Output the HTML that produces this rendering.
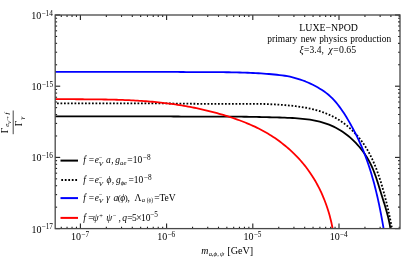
<!DOCTYPE html>
<html><head><meta charset="utf-8"><style>
html,body{margin:0;padding:0;background:#fff;}
body{width:415px;height:258px;overflow:hidden;font-family:"Liberation Serif",serif;}
svg{display:block;font-family:"Liberation Serif",serif;will-change:transform;opacity:0.999;}
svg text{fill:#000;}
</style></head><body>
<svg width="415" height="258" viewBox="0 0 415 258">
<rect width="415" height="258" fill="#fff"/>
<defs><clipPath id="c"><rect x="55.2" y="15.0" width="344.8" height="213.6"/></clipPath></defs>
<g clip-path="url(#c)" fill="none" stroke-width="1.8" stroke-linejoin="round">
<polyline points="50.00,116.40 57.54,116.40 60.09,116.40 62.63,116.40 65.17,116.40 67.70,116.40 70.24,116.40 72.78,116.40 75.31,116.40 77.84,116.40 80.37,116.40 82.90,116.40 85.43,116.40 87.96,116.40 90.49,116.40 93.01,116.40 95.54,116.40 98.06,116.40 100.58,116.40 103.10,116.40 105.62,116.40 108.14,116.40 110.66,116.40 113.18,116.40 115.69,116.40 118.21,116.40 120.73,116.40 123.24,116.40 125.76,116.40 128.27,116.40 130.78,116.40 133.30,116.40 135.81,116.40 138.32,116.40 140.83,116.40 143.34,116.40 145.86,116.40 148.37,116.40 150.88,116.40 153.39,116.40 155.90,116.41 158.41,116.41 160.92,116.42 163.43,116.43 165.94,116.44 168.45,116.45 170.96,116.47 173.47,116.48 175.98,116.50 178.50,116.51 181.01,116.53 183.52,116.54 186.03,116.56 188.54,116.57 191.06,116.59 193.57,116.60 196.08,116.62 198.60,116.63 201.12,116.64 203.63,116.65 206.15,116.66 208.67,116.67 211.18,116.67 213.70,116.67 216.22,116.67 218.74,116.67 221.26,116.67 223.79,116.67 226.31,116.67 228.84,116.67 231.36,116.67 233.89,116.67 236.42,116.67 238.95,116.67 241.48,116.70 244.01,116.73 246.54,116.77 249.08,116.81 251.61,116.85 254.15,116.90 256.69,116.95 259.23,117.00 261.77,117.05 264.31,117.11 266.86,117.17 269.40,117.23 271.95,117.30 274.50,117.37 277.06,117.44 279.61,117.51 282.16,117.59 284.72,117.68 287.28,117.78 289.83,117.89 292.38,118.01 294.92,118.16 297.46,118.34 299.99,118.54 302.50,118.78 305.01,119.06 307.50,119.37 309.98,119.73 312.44,120.14 314.89,120.60 317.31,121.12 319.72,121.70 322.10,122.34 324.46,123.04 326.79,123.82 329.09,124.68 331.37,125.61 333.62,126.63 335.83,127.73 338.01,128.92 340.16,130.19 342.26,131.54 344.33,132.96 346.36,134.45 348.34,136.02 350.28,137.65 352.17,139.35 354.01,141.11 355.80,142.92 357.54,144.79 359.22,146.72 360.84,148.69 362.40,150.71 363.90,152.78 365.34,154.88 366.72,157.02 368.02,159.20 369.26,161.41 370.43,163.65 371.52,165.91 372.54,168.20 373.51,170.51 374.42,172.84 375.28,175.19 376.11,177.56 376.90,179.95 377.68,182.35 378.43,184.76 379.18,187.19 379.93,189.62 380.68,192.06 381.45,194.51 382.22,196.97 382.99,199.42 383.76,201.88 384.52,204.34 385.26,206.80 385.99,209.26 386.69,211.71 387.35,214.15 387.98,216.59 388.57,219.02 389.11,221.43 389.60,223.84 390.03,226.23 390.40,228.60" stroke="#000"/>
<polyline points="50.00,103.40 57.60,103.40 60.20,103.40 62.80,103.40 65.40,103.40 68.00,103.40 70.59,103.40 73.19,103.40 75.78,103.40 78.38,103.40 80.97,103.40 83.56,103.40 86.15,103.40 88.74,103.40 91.33,103.40 93.91,103.40 96.50,103.40 99.09,103.40 101.67,103.40 104.25,103.40 106.84,103.40 109.42,103.40 112.00,103.40 114.59,103.40 117.17,103.40 119.75,103.40 122.33,103.40 124.91,103.40 127.49,103.40 130.07,103.40 132.64,103.40 135.22,103.40 137.80,103.40 140.38,103.40 142.96,103.40 145.53,103.40 148.11,103.40 150.69,103.40 153.26,103.40 155.84,103.41 158.42,103.41 160.99,103.43 163.57,103.44 166.14,103.46 168.72,103.48 171.30,103.50 173.87,103.53 176.45,103.56 179.03,103.59 181.61,103.62 184.18,103.65 186.76,103.68 189.34,103.71 191.92,103.73 194.50,103.76 197.07,103.78 199.65,103.80 202.23,103.82 204.81,103.84 207.40,103.85 209.98,103.86 212.56,103.87 215.14,103.87 217.73,103.87 220.31,103.87 222.89,103.87 225.48,103.87 228.07,103.87 230.65,103.87 233.24,103.87 235.83,103.87 238.42,103.87 241.01,103.87 243.60,103.87 246.19,103.87 248.79,103.87 251.38,103.87 253.98,103.87 256.57,103.87 259.17,103.87 261.77,103.91 264.37,103.99 266.97,104.09 269.57,104.20 272.18,104.32 274.78,104.46 277.39,104.61 280.00,104.77 282.60,104.95 285.21,105.15 287.82,105.38 290.42,105.62 293.02,105.89 295.61,106.20 298.20,106.53 300.77,106.90 303.33,107.31 305.88,107.76 308.41,108.26 310.93,108.81 313.42,109.40 315.90,110.05 318.36,110.75 320.79,111.52 323.20,112.34 325.58,113.23 327.93,114.19 330.25,115.22 332.54,116.33 334.80,117.51 337.02,118.76 339.21,120.10 341.35,121.51 343.46,122.99 345.52,124.55 347.53,126.17 349.50,127.85 351.42,129.60 353.28,131.40 355.09,133.26 356.84,135.18 358.54,137.15 360.17,139.16 361.74,141.22 363.25,143.33 364.69,145.47 366.08,147.66 367.41,149.88 368.68,152.14 369.90,154.42 371.07,156.73 372.19,159.07 373.26,161.43 374.29,163.82 375.28,166.22 376.23,168.63 377.15,171.06 378.03,173.50 378.88,175.96 379.70,178.42 380.49,180.90 381.25,183.39 381.99,185.88 382.72,188.38 383.42,190.89 384.10,193.40 384.77,195.92 385.42,198.44 386.06,200.96 386.68,203.49 387.28,206.01 387.87,208.54 388.44,211.06 388.99,213.58 389.53,216.10 390.06,218.61 390.57,221.12 391.06,223.62 391.54,226.11 392.00,228.60" stroke="#000" stroke-dasharray="1.75 1.75"/>
<polyline points="50.00,71.80 57.68,71.80 60.36,71.80 63.04,71.80 65.72,71.80 68.40,71.80 71.08,71.80 73.75,71.80 76.43,71.80 79.10,71.80 81.78,71.80 84.45,71.80 87.13,71.80 89.80,71.80 92.48,71.80 95.15,71.80 97.82,71.80 100.49,71.80 103.17,71.80 105.84,71.80 108.51,71.80 111.18,71.80 113.85,71.80 116.52,71.80 119.19,71.80 121.86,71.80 124.54,71.80 127.21,71.80 129.88,71.80 132.55,71.80 135.22,71.80 137.89,71.80 140.56,71.80 143.23,71.80 145.90,71.80 148.57,71.81 151.25,71.81 153.92,71.82 156.59,71.83 159.26,71.84 161.94,71.85 164.61,71.87 167.28,71.89 169.96,71.90 172.63,71.93 175.31,71.95 177.98,71.97 180.66,71.99 183.33,72.02 186.01,72.04 188.69,72.06 191.37,72.08 194.05,72.09 196.73,72.10 199.41,72.11 202.09,72.12 204.77,72.12 207.46,72.13 210.14,72.14 212.82,72.14 215.51,72.16 218.19,72.17 220.87,72.19 223.55,72.21 226.24,72.24 228.92,72.27 231.60,72.32 234.28,72.36 236.96,72.42 239.63,72.49 242.31,72.56 244.98,72.65 247.65,72.75 250.32,72.86 252.99,72.98 255.66,73.11 258.32,73.26 260.98,73.42 263.64,73.60 266.29,73.80 268.94,74.01 271.59,74.23 274.24,74.48 276.88,74.75 279.51,75.04 282.15,75.37 284.78,75.76 287.40,76.21 290.02,76.74 292.64,77.34 295.24,78.02 297.83,78.78 300.39,79.60 302.94,80.50 305.46,81.46 307.95,82.50 310.41,83.60 312.83,84.77 315.22,86.00 317.56,87.29 319.85,88.65 322.09,90.07 324.28,91.55 326.41,93.11 328.48,94.77 330.48,96.55 332.41,98.44 334.26,100.41 336.03,102.44 337.73,104.50 339.35,106.60 340.91,108.73 342.42,110.90 343.87,113.10 345.29,115.33 346.67,117.58 348.03,119.87 349.36,122.17 350.68,124.50 351.98,126.86 353.26,129.23 354.52,131.61 355.75,134.02 356.95,136.44 358.12,138.87 359.25,141.31 360.36,143.76 361.43,146.22 362.47,148.69 363.49,151.16 364.47,153.65 365.43,156.15 366.35,158.65 367.25,161.16 368.13,163.68 368.98,166.21 369.80,168.75 370.60,171.29 371.38,173.84 372.13,176.39 372.86,178.96 373.58,181.53 374.27,184.10 374.94,186.68 375.59,189.27 376.22,191.86 376.84,194.46 377.44,197.06 378.02,199.67 378.59,202.28 379.15,204.90 379.69,207.52 380.21,210.14 380.73,212.77 381.23,215.40 381.72,218.03 382.21,220.67 382.68,223.31 383.14,225.95 383.60,228.60" stroke="#0000ff"/>
<polyline points="50.00,99.20 57.13,99.20 59.27,99.20 61.40,99.20 63.53,99.20 65.66,99.20 67.79,99.21 69.92,99.21 72.04,99.22 74.17,99.22 76.29,99.23 78.41,99.24 80.54,99.25 82.66,99.26 84.78,99.28 86.90,99.29 89.01,99.31 91.13,99.33 93.25,99.35 95.36,99.38 97.48,99.40 99.59,99.43 101.71,99.45 103.82,99.48 105.93,99.52 108.04,99.56 110.16,99.60 112.27,99.65 114.38,99.70 116.48,99.76 118.59,99.82 120.70,99.89 122.81,99.96 124.92,100.04 127.02,100.13 129.13,100.22 131.24,100.32 133.34,100.42 135.45,100.54 137.55,100.66 139.66,100.79 141.76,100.93 143.87,101.07 145.97,101.23 148.08,101.39 150.18,101.56 152.28,101.75 154.39,101.94 156.49,102.14 158.60,102.35 160.70,102.57 162.80,102.81 164.91,103.05 167.01,103.31 169.12,103.58 171.22,103.85 173.33,104.15 175.43,104.45 177.54,104.77 179.64,105.09 181.75,105.43 183.85,105.79 185.95,106.15 188.05,106.53 190.15,106.93 192.25,107.33 194.35,107.75 196.44,108.18 198.53,108.62 200.62,109.08 202.71,109.55 204.79,110.03 206.86,110.52 208.94,111.03 211.01,111.55 213.07,112.09 215.13,112.64 217.18,113.20 219.23,113.77 221.28,114.36 223.31,114.96 225.34,115.58 227.37,116.20 229.38,116.84 231.39,117.50 233.40,118.17 235.39,118.85 237.38,119.55 239.35,120.27 241.32,121.00 243.28,121.75 245.24,122.52 247.18,123.31 249.11,124.13 251.03,124.96 252.94,125.81 254.84,126.69 256.74,127.59 258.61,128.52 260.48,129.47 262.34,130.45 264.18,131.46 266.01,132.49 267.83,133.56 269.64,134.65 271.43,135.78 273.21,136.93 274.97,138.11 276.72,139.31 278.45,140.55 280.16,141.81 281.86,143.10 283.53,144.42 285.19,145.76 286.83,147.13 288.44,148.52 290.04,149.94 291.61,151.38 293.16,152.84 294.68,154.33 296.18,155.85 297.66,157.38 299.11,158.94 300.53,160.52 301.92,162.12 303.29,163.74 304.63,165.38 305.93,167.05 307.21,168.73 308.46,170.43 309.68,172.15 310.86,173.89 312.02,175.65 313.15,177.43 314.25,179.22 315.32,181.03 316.36,182.86 317.37,184.71 318.35,186.57 319.31,188.44 320.24,190.33 321.13,192.24 322.00,194.16 322.85,196.09 323.66,198.04 324.45,200.00 325.21,201.98 325.95,203.96 326.66,205.96 327.34,207.97 327.99,209.99 328.62,212.02 329.21,214.06 329.78,216.11 330.32,218.17 330.84,220.24 331.32,222.32 331.78,224.41 332.20,226.50 332.60,228.60" stroke="#ff0000"/>
</g>
<g stroke="#202020" stroke-width="1.1">
<line x1="61.28" y1="228.6" x2="61.28" y2="226.70"/>
<line x1="61.28" y1="15.0" x2="61.28" y2="16.90"/>
<line x1="67.05" y1="228.6" x2="67.05" y2="226.70"/>
<line x1="67.05" y1="15.0" x2="67.05" y2="16.90"/>
<line x1="72.05" y1="228.6" x2="72.05" y2="226.70"/>
<line x1="72.05" y1="15.0" x2="72.05" y2="16.90"/>
<line x1="76.46" y1="228.6" x2="76.46" y2="226.70"/>
<line x1="76.46" y1="15.0" x2="76.46" y2="16.90"/>
<line x1="80.40" y1="228.6" x2="80.40" y2="223.60"/>
<line x1="80.40" y1="15.0" x2="80.40" y2="20.00"/>
<line x1="106.35" y1="228.6" x2="106.35" y2="226.70"/>
<line x1="106.35" y1="15.0" x2="106.35" y2="16.90"/>
<line x1="121.53" y1="228.6" x2="121.53" y2="226.70"/>
<line x1="121.53" y1="15.0" x2="121.53" y2="16.90"/>
<line x1="132.30" y1="228.6" x2="132.30" y2="226.70"/>
<line x1="132.30" y1="15.0" x2="132.30" y2="16.90"/>
<line x1="140.65" y1="228.6" x2="140.65" y2="226.70"/>
<line x1="140.65" y1="15.0" x2="140.65" y2="16.90"/>
<line x1="147.48" y1="228.6" x2="147.48" y2="226.70"/>
<line x1="147.48" y1="15.0" x2="147.48" y2="16.90"/>
<line x1="153.25" y1="228.6" x2="153.25" y2="226.70"/>
<line x1="153.25" y1="15.0" x2="153.25" y2="16.90"/>
<line x1="158.25" y1="228.6" x2="158.25" y2="226.70"/>
<line x1="158.25" y1="15.0" x2="158.25" y2="16.90"/>
<line x1="162.66" y1="228.6" x2="162.66" y2="226.70"/>
<line x1="162.66" y1="15.0" x2="162.66" y2="16.90"/>
<line x1="166.60" y1="228.6" x2="166.60" y2="223.60"/>
<line x1="166.60" y1="15.0" x2="166.60" y2="20.00"/>
<line x1="192.55" y1="228.6" x2="192.55" y2="226.70"/>
<line x1="192.55" y1="15.0" x2="192.55" y2="16.90"/>
<line x1="207.73" y1="228.6" x2="207.73" y2="226.70"/>
<line x1="207.73" y1="15.0" x2="207.73" y2="16.90"/>
<line x1="218.50" y1="228.6" x2="218.50" y2="226.70"/>
<line x1="218.50" y1="15.0" x2="218.50" y2="16.90"/>
<line x1="226.85" y1="228.6" x2="226.85" y2="226.70"/>
<line x1="226.85" y1="15.0" x2="226.85" y2="16.90"/>
<line x1="233.68" y1="228.6" x2="233.68" y2="226.70"/>
<line x1="233.68" y1="15.0" x2="233.68" y2="16.90"/>
<line x1="239.45" y1="228.6" x2="239.45" y2="226.70"/>
<line x1="239.45" y1="15.0" x2="239.45" y2="16.90"/>
<line x1="244.45" y1="228.6" x2="244.45" y2="226.70"/>
<line x1="244.45" y1="15.0" x2="244.45" y2="16.90"/>
<line x1="248.86" y1="228.6" x2="248.86" y2="226.70"/>
<line x1="248.86" y1="15.0" x2="248.86" y2="16.90"/>
<line x1="252.80" y1="228.6" x2="252.80" y2="223.60"/>
<line x1="252.80" y1="15.0" x2="252.80" y2="20.00"/>
<line x1="278.75" y1="228.6" x2="278.75" y2="226.70"/>
<line x1="278.75" y1="15.0" x2="278.75" y2="16.90"/>
<line x1="293.93" y1="228.6" x2="293.93" y2="226.70"/>
<line x1="293.93" y1="15.0" x2="293.93" y2="16.90"/>
<line x1="304.70" y1="228.6" x2="304.70" y2="226.70"/>
<line x1="304.70" y1="15.0" x2="304.70" y2="16.90"/>
<line x1="313.05" y1="228.6" x2="313.05" y2="226.70"/>
<line x1="313.05" y1="15.0" x2="313.05" y2="16.90"/>
<line x1="319.88" y1="228.6" x2="319.88" y2="226.70"/>
<line x1="319.88" y1="15.0" x2="319.88" y2="16.90"/>
<line x1="325.65" y1="228.6" x2="325.65" y2="226.70"/>
<line x1="325.65" y1="15.0" x2="325.65" y2="16.90"/>
<line x1="330.65" y1="228.6" x2="330.65" y2="226.70"/>
<line x1="330.65" y1="15.0" x2="330.65" y2="16.90"/>
<line x1="335.06" y1="228.6" x2="335.06" y2="226.70"/>
<line x1="335.06" y1="15.0" x2="335.06" y2="16.90"/>
<line x1="339.00" y1="228.6" x2="339.00" y2="223.60"/>
<line x1="339.00" y1="15.0" x2="339.00" y2="20.00"/>
<line x1="364.95" y1="228.6" x2="364.95" y2="226.70"/>
<line x1="364.95" y1="15.0" x2="364.95" y2="16.90"/>
<line x1="380.13" y1="228.6" x2="380.13" y2="226.70"/>
<line x1="380.13" y1="15.0" x2="380.13" y2="16.90"/>
<line x1="390.90" y1="228.6" x2="390.90" y2="226.70"/>
<line x1="390.90" y1="15.0" x2="390.90" y2="16.90"/>
<line x1="399.25" y1="228.6" x2="399.25" y2="226.70"/>
<line x1="399.25" y1="15.0" x2="399.25" y2="16.90"/>
<line x1="55.2" y1="228.60" x2="60.20" y2="228.60"/>
<line x1="400.0" y1="228.60" x2="395.00" y2="228.60"/>
<line x1="55.2" y1="207.17" x2="57.10" y2="207.17"/>
<line x1="400.0" y1="207.17" x2="398.10" y2="207.17"/>
<line x1="55.2" y1="194.63" x2="57.10" y2="194.63"/>
<line x1="400.0" y1="194.63" x2="398.10" y2="194.63"/>
<line x1="55.2" y1="185.73" x2="57.10" y2="185.73"/>
<line x1="400.0" y1="185.73" x2="398.10" y2="185.73"/>
<line x1="55.2" y1="178.83" x2="57.10" y2="178.83"/>
<line x1="400.0" y1="178.83" x2="398.10" y2="178.83"/>
<line x1="55.2" y1="173.20" x2="57.10" y2="173.20"/>
<line x1="400.0" y1="173.20" x2="398.10" y2="173.20"/>
<line x1="55.2" y1="168.43" x2="57.10" y2="168.43"/>
<line x1="400.0" y1="168.43" x2="398.10" y2="168.43"/>
<line x1="55.2" y1="164.30" x2="57.10" y2="164.30"/>
<line x1="400.0" y1="164.30" x2="398.10" y2="164.30"/>
<line x1="55.2" y1="160.66" x2="57.10" y2="160.66"/>
<line x1="400.0" y1="160.66" x2="398.10" y2="160.66"/>
<line x1="55.2" y1="157.40" x2="60.20" y2="157.40"/>
<line x1="400.0" y1="157.40" x2="395.00" y2="157.40"/>
<line x1="55.2" y1="135.97" x2="57.10" y2="135.97"/>
<line x1="400.0" y1="135.97" x2="398.10" y2="135.97"/>
<line x1="55.2" y1="123.43" x2="57.10" y2="123.43"/>
<line x1="400.0" y1="123.43" x2="398.10" y2="123.43"/>
<line x1="55.2" y1="114.53" x2="57.10" y2="114.53"/>
<line x1="400.0" y1="114.53" x2="398.10" y2="114.53"/>
<line x1="55.2" y1="107.63" x2="57.10" y2="107.63"/>
<line x1="400.0" y1="107.63" x2="398.10" y2="107.63"/>
<line x1="55.2" y1="102.00" x2="57.10" y2="102.00"/>
<line x1="400.0" y1="102.00" x2="398.10" y2="102.00"/>
<line x1="55.2" y1="97.23" x2="57.10" y2="97.23"/>
<line x1="400.0" y1="97.23" x2="398.10" y2="97.23"/>
<line x1="55.2" y1="93.10" x2="57.10" y2="93.10"/>
<line x1="400.0" y1="93.10" x2="398.10" y2="93.10"/>
<line x1="55.2" y1="89.46" x2="57.10" y2="89.46"/>
<line x1="400.0" y1="89.46" x2="398.10" y2="89.46"/>
<line x1="55.2" y1="86.20" x2="60.20" y2="86.20"/>
<line x1="400.0" y1="86.20" x2="395.00" y2="86.20"/>
<line x1="55.2" y1="64.77" x2="57.10" y2="64.77"/>
<line x1="400.0" y1="64.77" x2="398.10" y2="64.77"/>
<line x1="55.2" y1="52.23" x2="57.10" y2="52.23"/>
<line x1="400.0" y1="52.23" x2="398.10" y2="52.23"/>
<line x1="55.2" y1="43.33" x2="57.10" y2="43.33"/>
<line x1="400.0" y1="43.33" x2="398.10" y2="43.33"/>
<line x1="55.2" y1="36.43" x2="57.10" y2="36.43"/>
<line x1="400.0" y1="36.43" x2="398.10" y2="36.43"/>
<line x1="55.2" y1="30.80" x2="57.10" y2="30.80"/>
<line x1="400.0" y1="30.80" x2="398.10" y2="30.80"/>
<line x1="55.2" y1="26.03" x2="57.10" y2="26.03"/>
<line x1="400.0" y1="26.03" x2="398.10" y2="26.03"/>
<line x1="55.2" y1="21.90" x2="57.10" y2="21.90"/>
<line x1="400.0" y1="21.90" x2="398.10" y2="21.90"/>
<line x1="55.2" y1="18.26" x2="57.10" y2="18.26"/>
<line x1="400.0" y1="18.26" x2="398.10" y2="18.26"/>
<line x1="55.2" y1="15.00" x2="60.20" y2="15.00"/>
<line x1="400.0" y1="15.00" x2="395.00" y2="15.00"/>
</g>
<rect x="55.2" y="15.0" width="344.8" height="213.6" fill="none" stroke="#484848" stroke-width="1.3"/>
<g stroke-width="2" fill="none">
<line x1="60.5" y1="160.6" x2="78.0" y2="160.6" stroke="#000"/>
<line x1="61.3" y1="180.0" x2="77.1" y2="180.0" stroke="#000" stroke-dasharray="1.75 1.75"/>
<line x1="60.5" y1="198.1" x2="78.0" y2="198.1" stroke="#0000ff"/>
<line x1="60.5" y1="217.9" x2="78.0" y2="217.9" stroke="#ff0000"/>
</g>
<text x="71.08" y="240.00" font-size="10.0">10</text>
<text x="81.28" y="236.65" font-size="7.3">−7</text>
<text x="157.29" y="240.00" font-size="10.0">10</text>
<text x="167.49" y="236.65" font-size="7.3">−6</text>
<text x="243.52" y="240.00" font-size="10.0">10</text>
<text x="253.72" y="236.65" font-size="7.3">−5</text>
<text x="329.63" y="240.00" font-size="10.0">10</text>
<text x="339.83" y="236.65" font-size="7.3">−4</text>
<text x="31.30" y="18.90" font-size="10.0">10</text>
<text x="41.50" y="15.55" font-size="7.3">−14</text>
<text x="31.47" y="90.10" font-size="10.0">10</text>
<text x="41.67" y="86.75" font-size="7.3">−15</text>
<text x="31.40" y="161.30" font-size="10.0">10</text>
<text x="41.60" y="157.95" font-size="7.3">−16</text>
<text x="31.39" y="232.50" font-size="10.0">10</text>
<text x="41.59" y="229.15" font-size="7.3">−17</text>
<text x="299.34" y="30.60" font-size="9.85">LUXE−NPOD</text>
<text x="267.35" y="41.50" font-size="9.45">primary</text>
<text x="300.68" y="41.50" font-size="9.45">new</text>
<text x="319.15" y="41.50" font-size="9.45">physics</text>
<text x="350.25" y="41.50" font-size="9.45">production</text>
<text x="299.48" y="52.70" font-size="9.5" font-style="italic">ξ</text>
<text x="304.03" y="52.70" font-size="9.5">=</text>
<text x="309.55" y="52.70" font-size="9.5">3.4</text>
<text x="321.44" y="52.70" font-size="9.5">,</text>
<text x="328.56" y="52.70" font-size="9.5" font-style="italic">χ</text>
<text x="333.33" y="52.70" font-size="9.5">=</text>
<text x="339.03" y="52.70" font-size="9.8">0.65</text>
<text x="83.20" y="163.20" font-size="9.3" font-style="italic">f</text>
<text x="88.63" y="163.20" font-size="9.5">=</text>
<text x="94.71" y="163.20" font-size="9.3" font-style="italic">e</text>
<text x="98.98" y="159.80" font-size="6.4">−</text>
<text x="98.84" y="165.80" font-size="6.9" font-style="italic">V</text>
<text x="106.02" y="163.20" font-size="9.5" font-style="italic">a</text>
<text x="111.14" y="163.20" font-size="9.5">,</text>
<text x="115.30" y="163.20" font-size="9.5" font-style="italic">g</text>
<text x="120.10" y="164.80" font-size="6.6" font-style="italic">ae</text>
<text x="127.33" y="163.20" font-size="9.5">=</text>
<text x="132.77" y="163.20" font-size="9.5">10</text>
<text x="142.84" y="159.70" font-size="7.3">−8</text>
<text x="83.20" y="183.00" font-size="9.3" font-style="italic">f</text>
<text x="88.63" y="183.00" font-size="9.5">=</text>
<text x="94.71" y="183.00" font-size="9.3" font-style="italic">e</text>
<text x="98.98" y="179.60" font-size="6.4">−</text>
<text x="98.84" y="185.60" font-size="6.9" font-style="italic">V</text>
<text x="106.38" y="183.00" font-size="9.5" font-style="italic">ϕ</text>
<text x="111.64" y="183.00" font-size="9.5">,</text>
<text x="116.00" y="183.00" font-size="9.5" font-style="italic">g</text>
<text x="120.65" y="184.60" font-size="6.6" font-style="italic">ϕe</text>
<text x="128.53" y="183.00" font-size="9.5">=</text>
<text x="133.77" y="183.00" font-size="9.5">10</text>
<text x="143.84" y="179.50" font-size="7.3">−8</text>
<text x="83.20" y="200.80" font-size="9.3" font-style="italic">f</text>
<text x="88.63" y="200.80" font-size="9.5">=</text>
<text x="94.71" y="200.80" font-size="9.3" font-style="italic">e</text>
<text x="98.98" y="197.40" font-size="6.4">−</text>
<text x="98.84" y="203.40" font-size="6.9" font-style="italic">V</text>
<text x="106.33" y="200.80" font-size="9.5" font-style="italic">γ</text>
<text x="113.62" y="200.80" font-size="9.5" font-style="italic">a</text>
<text x="117.70" y="200.80" font-size="9.0">(</text>
<text x="120.28" y="200.80" font-size="9.5" font-style="italic">ϕ</text>
<text x="124.71" y="200.80" font-size="9.0">)</text>
<text x="127.44" y="200.80" font-size="9.5">,</text>
<text x="134.61" y="200.80" font-size="9.5">Λ</text>
<text x="141.70" y="202.40" font-size="6.6" font-style="italic">a</text>
<text x="146.66" y="202.20" font-size="5.4">(ϕ)</text>
<text x="154.23" y="200.80" font-size="9.5">=</text>
<text x="159.43" y="200.80" font-size="9.5">TeV</text>
<text x="83.19" y="220.70" font-size="9.5" font-style="italic">f</text>
<text x="88.23" y="220.70" font-size="9.5">=</text>
<text x="92.63" y="220.70" font-size="9.5" font-style="italic">ψ</text>
<text x="99.28" y="217.70" font-size="6.4">+</text>
<text x="106.33" y="220.70" font-size="9.5" font-style="italic">ψ</text>
<text x="113.08" y="217.70" font-size="6.4">−</text>
<text x="118.54" y="220.70" font-size="9.5">,</text>
<text x="122.18" y="220.70" font-size="9.5" font-style="italic">q</text>
<text x="127.13" y="220.70" font-size="9.5">=</text>
<text x="132.05" y="220.70" font-size="9.5">5</text>
<text x="136.35" y="220.70" font-size="9.5">×</text>
<text x="140.97" y="220.70" font-size="9.5">10</text>
<text x="150.04" y="217.20" font-size="7.3">−5</text>
<text x="201.34" y="253.80" font-size="9.9" font-style="italic">m</text>
<text x="208.80" y="255.60" font-size="6.6" font-style="italic">a</text>
<text x="211.75" y="255.60" font-size="6.6">,</text>
<text x="213.44" y="255.60" font-size="6.8" font-style="italic">ϕ</text>
<text x="217.35" y="255.60" font-size="6.6">,</text>
<text x="219.89" y="255.60" font-size="6.8" font-style="italic">ψ</text>
<text x="227.24" y="253.80" font-size="10.2">[GeV]</text>
<!-- y label -->
<g transform="translate(13.2,122.3) rotate(-90)">
<line x1="-11.9" y1="0" x2="11.8" y2="0" stroke="#333" stroke-width="0.9"/>
<text x="-11.0" y="-5.5" font-size="9.8">Γ</text>
<text x="-4.4" y="-3.8" font-size="7" font-style="italic">e</text>
<text x="-1.6" y="-2.6" font-size="5" font-style="italic">V</text>
<text x="0.6" y="-3.8" font-size="7">→</text>
<text x="7.8" y="-3.8" font-size="7" font-style="italic">f</text>
<text x="-3.9" y="8.9" font-size="9.8">Γ</text>
<text x="2.9" y="10.8" font-size="7" font-style="italic">γ</text>
</g>
</svg>
</body></html>
